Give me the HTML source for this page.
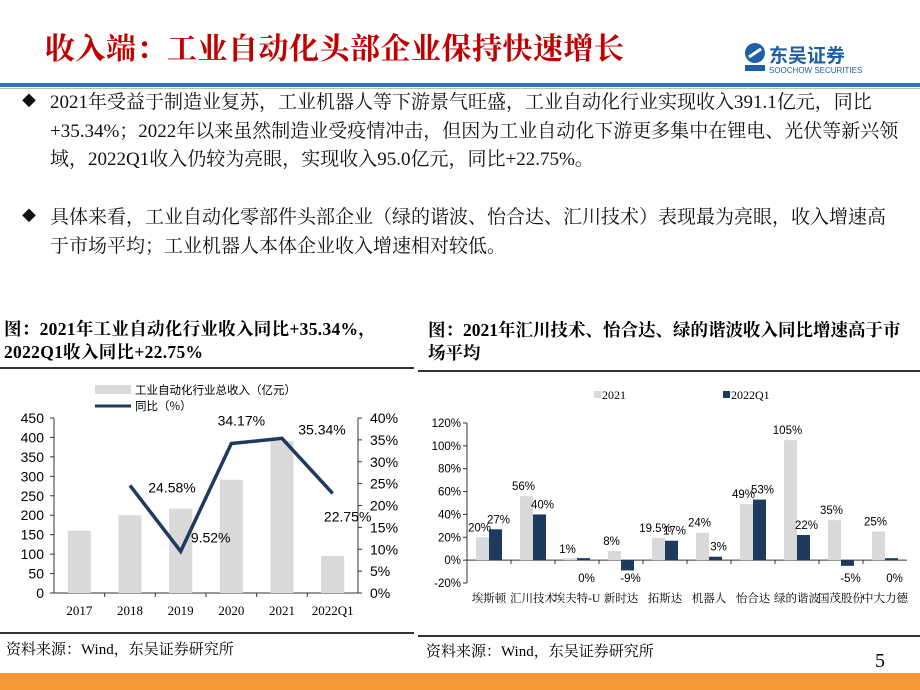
<!DOCTYPE html>
<html><head><meta charset="utf-8"><style>
body{margin:0;width:920px;height:690px;position:relative;background:#fff;overflow:hidden;font-family:"Liberation Serif","Noto Serif CJK SC",serif;}
.a{position:absolute;}
.t{font-size:19px;color:#111;line-height:28.5px;white-space:nowrap;}
</style></head><body>
<div class="a" style="left:45px;top:24px;font-size:30px;font-weight:bold;color:#c00000;font-family:'Liberation Serif','Noto Serif CJK SC',serif;letter-spacing:0.5px">收入端：工业自动化头部企业保持快速增长</div>
<div class="a" style="left:743px;top:40px;width:135px;height:36px">
 <svg width="135" height="36"><circle cx="12" cy="13" r="10" fill="#1e5fa8"/><path d="M6 17 L18 9" stroke="#fff" stroke-width="3"/><rect x="2" y="25" width="20" height="6" fill="#1e5fa8"/>
 <text x="26" y="22" font-size="19" font-weight="bold" fill="#1e5fa8" font-family="'Noto Sans CJK SC',sans-serif">东吴证券</text>
 <text x="26" y="33" font-size="8" fill="#1e5fa8" font-family="'Liberation Sans',sans-serif">SOOCHOW SECURITIES</text></svg></div>
<div class="a" style="left:0;top:83px;width:920px;height:4px;background:#2e75b6"></div>
<div class="a" style="left:0;top:88px;width:920px;height:1px;background:#bbb"></div>

<div class="a t" style="left:22px;top:89px;">
<span style="position:absolute;left:0;font-size:14px">◆</span><div style="margin-left:28px">2021年受益于制造业复苏，工业机器人等下游景气旺盛，工业自动化行业实现收入391.1亿元，同比<br>+35.34%；2022年以来虽然制造业受疫情冲击，但因为工业自动化下游更多集中在锂电、光伏等新兴领<br>域，2022Q1收入仍较为亮眼，实现收入95.0亿元，同比+22.75%。</div></div>
<div class="a t" style="left:22px;top:204px;">
<span style="position:absolute;left:0;font-size:14px">◆</span><div style="margin-left:28px">具体来看，工业自动化零部件头部企业（绿的谐波、怡合达、汇川技术）表现最为亮眼，收入增速高<br>于市场平均；工业机器人本体企业收入增速相对较低。</div></div>

<div class="a" style="left:4px;top:318px;font-size:17.5px;font-weight:bold;line-height:23px;white-space:nowrap;letter-spacing:0.3px">图：2021年工业自动化行业收入同比+35.34%，<br>2022Q1收入同比+22.75%</div>
<div class="a" style="left:428px;top:319px;font-size:17.5px;font-weight:bold;line-height:23px;white-space:nowrap">图：2021年汇川技术、怡合达、绿的谐波收入同比增速高于市<br>场平均</div>
<div class="a" style="left:0;top:367px;width:414px;height:2px;background:#333"></div>
<div class="a" style="left:418px;top:370px;width:502px;height:2px;background:#333"></div>
<div class="a" style="left:0;top:632px;width:414px;height:2px;background:#333"></div>
<div class="a" style="left:418px;top:635px;width:502px;height:2px;background:#333"></div>
<div class="a" style="left:6px;top:638px;font-size:15px">资料来源：Wind，东吴证券研究所</div>
<div class="a" style="left:426px;top:640px;font-size:15px">资料来源：Wind，东吴证券研究所</div>
<div class="a" style="left:875px;top:650px;font-size:20px">5</div>
<div class="a" style="left:0;top:673px;width:920px;height:17px;background:#f79a35"></div>

<svg id="c1" class="a" style="left:0;top:370px" width="415" height="260"></svg>
<svg id="c2" class="a" style="left:418px;top:375px" width="502" height="258"></svg>

<script>
const years=["2017","2018","2019","2020","2021","2022Q1"];
const revenue=[160,200,217,291,391,95];
const yoy=[null,24.58,9.52,34.17,35.34,22.75];
const yoyLabels=["","24.58%","9.52%","34.17%","35.34%","22.75%"];
const leftTicks=[0,50,100,150,200,250,300,350,400,450];
const rightTicks=[0,5,10,15,20,25,30,35,40];

const companies=["埃斯顿","汇川技术","埃夫特-U","新时达","拓斯达","机器人","怡合达","绿的谐波","国茂股份","中大力德"];
const s2021=[20,56,1,8,19.5,24,49,105,35,25];
const s2022=[27,40,0,-9,17,3,53,22,-5,0];
const l2021=["20%","56%","1%","8%","19.5%","24%","49%","105%","35%","25%"];
const l2022=["27%","40%","0%","-9%","17%","3%","53%","22%","-5%","0%"];
const pctTicks=[-20,0,20,40,60,80,100,120];

const NS="http://www.w3.org/2000/svg";
function mk(svg,tag,attrs,text){const e=document.createElementNS(NS,tag);for(const k in attrs)e.setAttribute(k,attrs[k]);if(text!==undefined)e.textContent=text;svg.appendChild(e);return e;}

(function(){
const s=document.getElementById('c1');
const X0=54,X1=358,Y0=223,Y1=48;
const bw=(X1-X0)/years.length;
const y=v=>Y0-(v/450)*(Y0-Y1);
const yr=v=>Y0-(v/40)*(Y0-Y1);
const xc=i=>X0+bw*(i+0.5);
mk(s,'line',{x1:X0,y1:Y1,x2:X0,y2:Y0,stroke:'#333'});
mk(s,'line',{x1:X1,y1:Y1,x2:X1,y2:Y0,stroke:'#333'});
mk(s,'line',{x1:X0,y1:Y0,x2:X1,y2:Y0,stroke:'#333'});
leftTicks.forEach(v=>{mk(s,'line',{x1:X0-4,y1:y(v),x2:X0,y2:y(v),stroke:'#333'});
 const t=mk(s,'text',{x:X0-10,y:y(v)+5,'text-anchor':'end','font-size':14,'font-family':'Liberation Sans,sans-serif'},v);
 });
rightTicks.forEach(v=>{mk(s,'line',{x1:X1,y1:yr(v),x2:X1+4,y2:yr(v),stroke:'#333'});
 const t=mk(s,'text',{x:X1+12,y:yr(v)+5,'font-size':14,'font-family':'Liberation Sans,sans-serif'},v+'%');
 });
years.forEach((c,i)=>{
 if(i>0)mk(s,'line',{x1:X0+bw*i,y1:Y0,x2:X0+bw*i,y2:Y0+4,stroke:'#333'});
 const r=mk(s,'rect',{x:xc(i)-11.5,y:y(revenue[i]),width:23,height:Y0-y(revenue[i]),fill:'#d9d9d9'});
 
 const t=mk(s,'text',{x:xc(i),y:Y0+22,'text-anchor':'middle','font-size':13},c);
 
});
let d='';yoy.forEach((v,i)=>{if(v===null)return;d+=(d?'L':'M')+xc(i)+' '+yr(v)+' ';});
const p=mk(s,'path',{d:d,fill:'none',stroke:'#1f3a5f','stroke-width':3.5});

const off=[null,[42,7],[30,-9],[10,-18],[40,-4],[15,28]];
yoy.forEach((v,i)=>{if(v===null)return;
 const t=mk(s,'text',{x:xc(i)+off[i][0],y:yr(v)+off[i][1],'text-anchor':'middle','font-size':14,'font-family':'Liberation Sans,sans-serif'},yoyLabels[i]);
 });
mk(s,'rect',{x:95,y:15,width:36,height:9,fill:'#d9d9d9'});
mk(s,'text',{x:135,y:24,'font-size':11.5,'font-family':'Noto Sans CJK SC,sans-serif'},'工业自动化行业总收入（亿元）');
mk(s,'line',{x1:95,y1:36,x2:131,y2:36,stroke:'#1f3a5f','stroke-width':3});
mk(s,'text',{x:135,y:40,'font-size':11.5,'font-family':'Noto Sans CJK SC,sans-serif'},'同比（%）');
})();

(function(){
const s=document.getElementById('c2');
const X0=49,X1=489,Yt=48,Yb=208;
const y=v=>Yt+(120-v)/140*(Yb-Yt);
const gw=(X1-X0)/companies.length;
const xc=i=>X0+gw*(i+0.5);
mk(s,'line',{x1:X0,y1:Yt,x2:X0,y2:Yb,stroke:'#333'});
pctTicks.forEach(v=>{mk(s,'line',{x1:X0-4,y1:y(v),x2:X0,y2:y(v),stroke:'#333'});
 const t=mk(s,'text',{x:X0-6,y:y(v)+4,'text-anchor':'end','font-size':11.5,'font-family':'Liberation Sans,sans-serif'},v+'%');
 });
mk(s,'line',{x1:X0,y1:y(0),x2:X1,y2:y(0),stroke:'#333'});
const bw=13;
function bar(v,x,col,n){const h=Math.max(Math.abs(y(v)-y(0)),2);const top=v>=0?y(0)-h:y(0);
 const r=mk(s,'rect',{x:x,y:top,width:bw,height:h,fill:col});}
companies.forEach((c,i)=>{
 if(i>0)mk(s,'line',{x1:X0+gw*i,y1:y(0),x2:X0+gw*i,y2:y(0)+4,stroke:'#333'});
 bar(s2021[i],xc(i)-bw,'#d9d9d9','bar-2021-'+i);
 bar(s2022[i],xc(i),'#1f3a5f','bar-2022q1-'+i);
 const a=mk(s,'text',{x:xc(i)-bw/2-3,y:Math.min(y(s2021[i]),y(0))-6,'text-anchor':'middle','font-size':11.5,'font-family':'Liberation Sans,sans-serif'},l2021[i]);
 
 const by=s2022[i]>0.5?y(s2022[i])-6:y(0)+22;
 const b=mk(s,'text',{x:xc(i)+bw/2+3,y:by,'text-anchor':'middle','font-size':11.5,'font-family':'Liberation Sans,sans-serif'},l2022[i]);
 
 const t=mk(s,'text',{x:xc(i),y:227,'text-anchor':'middle','font-size':11.5,'font-family':'Liberation Serif,Noto Serif CJK SC,serif'},c);
 
});
mk(s,'rect',{x:176,y:16,width:7,height:7,fill:'#d9d9d9'});
mk(s,'text',{x:184,y:24,'font-size':12},'2021');
mk(s,'rect',{x:305,y:16,width:7,height:7,fill:'#1f3a5f'});
mk(s,'text',{x:313,y:24,'font-size':12},'2022Q1');
})();
</script>
</body></html>
